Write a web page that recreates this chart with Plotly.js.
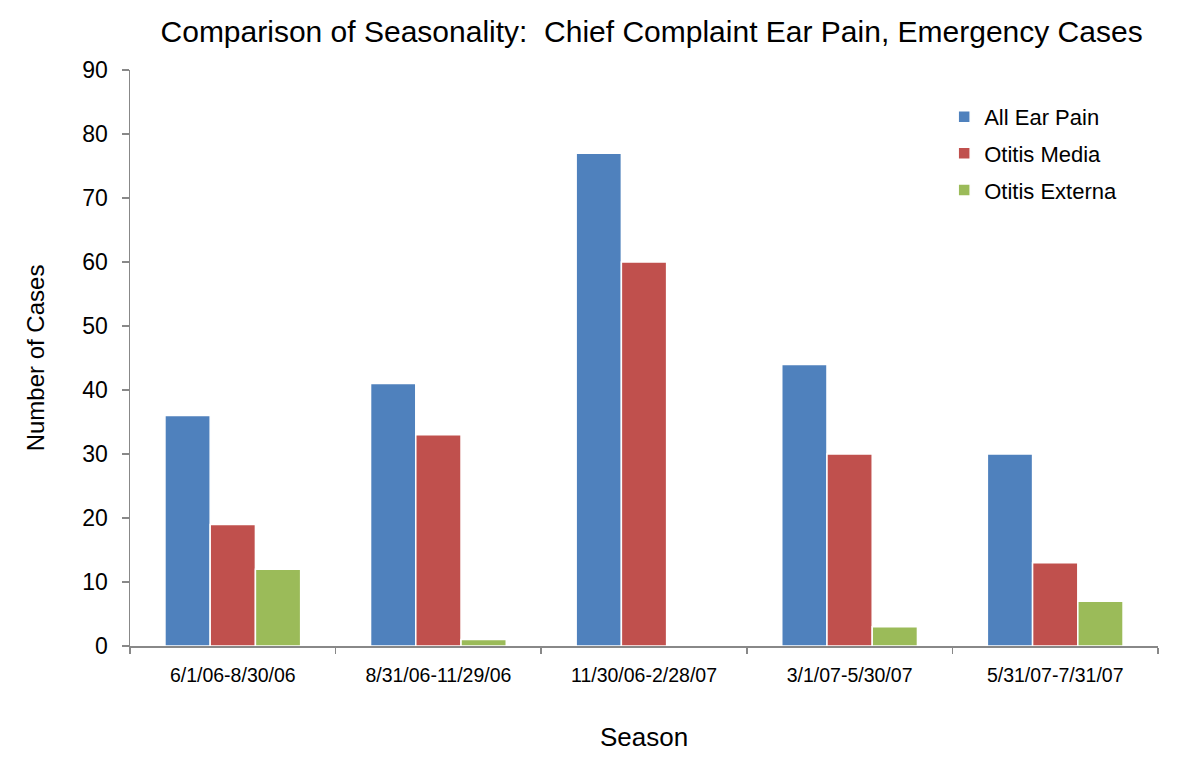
<!DOCTYPE html>
<html>
<head>
<meta charset="utf-8">
<script src="https://cdn.plot.ly/plotly-3.0.1.min.js"></script>
<style>html,body{margin:0;padding:0;background:#fff;}#chart{width:1200px;height:758px;}</style>
</head>
<body>
<div id="chart"></div>
<script>
const seasons = ["6/1/06-8/30/06", "8/31/06-11/29/06", "11/30/06-2/28/07", "3/1/07-5/30/07", "5/31/07-7/31/07"];
const allEarPain = [36, 41, 77, 44, 30];
const otitisMedia = [19, 33, 60, 30, 13];
const otitisExterna = [12, 1, 0, 3, 7];
const seriesNames = ["All Ear Pain", "Otitis Media", "Otitis Externa"];
const seriesColors = ["#4f81bd", "#c0504d", "#9bbb59"];
const yTicks = [0, 10, 20, 30, 40, 50, 60, 70, 80, 90];

const seriesValues = [allEarPain, otitisMedia, otitisExterna];
const data = seriesValues.map((vals, i) => ({
  type: "bar",
  name: seriesNames[i],
  legendgroup: "g" + i,
  x: seasons,
  y: vals,
  marker: {color: seriesColors[i], line: {color: "#ffffff", width: 1.5}},
  hoverinfo: "x+y+name"
}));

const font = "Liberation Sans, Arial, sans-serif";
const layout = {
  width: 1200, height: 758,
  margin: {l: 130, r: 42, t: 70, b: 112},
  paper_bgcolor: "#ffffff", plot_bgcolor: "#ffffff",
  font: {family: font, color: "#000000"},
  title: {text: "Comparison of Seasonality:  Chief Complaint Ear Pain, Emergency Cases",
          font: {size: 30, family: font, color: "#000"}, x: 0.543, xanchor: "center", y: 0.958, yanchor: "middle"},
  barmode: "group",
  bargap: 0.34,
  bargroupgap: 0,
  xaxis: {
    type: "category",
    showline: true, linecolor: "#888888", linewidth: 1.5,
    ticks: "outside", tickson: "boundaries", ticklen: 6, tickcolor: "#888888", tickwidth: 1.5,
    tickfont: {size: 19.5, family: font},
    ticklabelstandoff: 11,
    showgrid: false, zeroline: false,
    title: {text: "Season", font: {size: 26, family: font}, standoff: 43}
  },
  yaxis: {
    range: [0, 90],
    tickvals: yTicks,
    showline: true, linecolor: "#888888", linewidth: 1.5,
    ticks: "outside", ticklen: 7, tickcolor: "#888888", tickwidth: 1.5,
    tickfont: {size: 23, family: font},
    ticklabelstandoff: 9,
    showgrid: false, zeroline: false,
    title: {text: "Number of Cases", font: {size: 24, family: font}, standoff: 31}
  },
  legend: {
    x: 0.792, y: 0.955, xanchor: "left", yanchor: "top",
    font: {size: 22, family: font},
    bgcolor: "rgba(0,0,0,0)",
    traceorder: "grouped",
    tracegroupgap: 5,
    itemwidth: 30
  },
  showlegend: true
};
Plotly.newPlot("chart", data, layout, {displayModeBar: false, staticPlot: true});
</script>
</body>
</html>
